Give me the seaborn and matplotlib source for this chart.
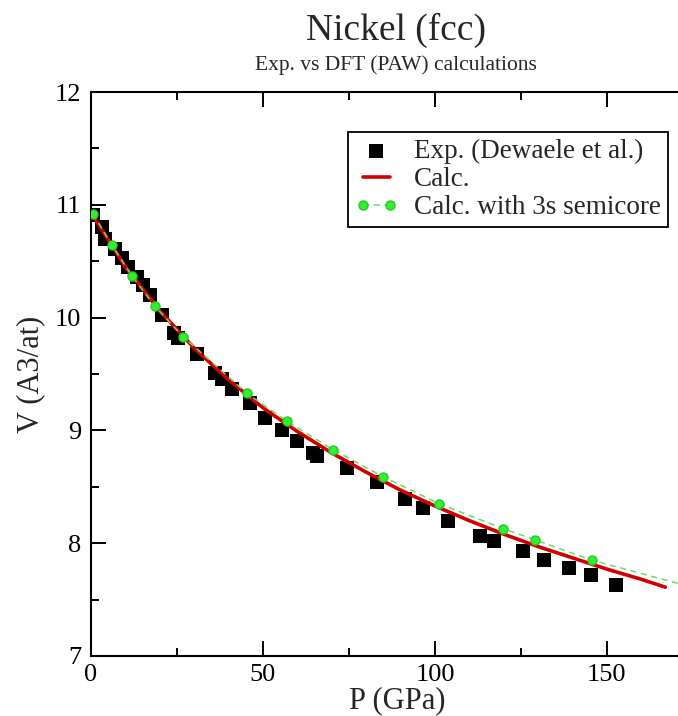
import matplotlib
matplotlib.use("Agg")
import matplotlib.pyplot as plt
import seaborn as sns
from matplotlib.legend_handler import HandlerLine2D
from matplotlib.ticker import MultipleLocator

# experimental points (Dewaele et al.)
exp_p = [0.6, 3.2, 4.1, 7.0, 9.0, 10.8, 13.4, 15.1, 17.2, 20.6, 24.0, 25.3,
         30.8, 36.0, 38.1, 41.0, 46.2, 50.6, 55.5, 59.9, 64.5, 65.8, 74.4,
         83.1, 91.3, 96.5, 103.8, 113.1, 117.2, 125.6, 131.7, 139.0, 145.3, 152.6]
exp_v = [10.91, 10.80, 10.70, 10.61, 10.53, 10.45, 10.36, 10.29, 10.20, 10.02, 9.86, 9.82,
         9.68, 9.51, 9.46, 9.37, 9.24, 9.11, 9.00, 8.91, 8.80, 8.77, 8.67,
         8.54, 8.39, 8.31, 8.20, 8.06, 8.02, 7.93, 7.85, 7.78, 7.72, 7.63]

# PAW calculation
calc_p = [0, 10, 20, 30, 40, 50, 60, 70, 80, 90, 100, 110, 120, 130, 140, 150, 160, 167]
calc_v = [10.93, 10.45, 10.06, 9.73, 9.45, 9.20, 8.99, 8.80, 8.63, 8.47, 8.33, 8.20,
          8.08, 7.97, 7.87, 7.77, 7.68, 7.61]

# PAW calculation with 3s semicore
semi_p = [0.6, 6.1, 11.9, 18.6, 26.8, 45.3, 57.0, 70.3, 84.9, 101.2, 119.8, 129.1, 145.6, 182.0]
semi_v = [10.92, 10.64, 10.37, 10.10, 9.83, 9.33, 9.08, 8.83, 8.59, 8.35, 8.13, 8.03, 7.85, 7.55]

sns.set_style("ticks")
plt.rcParams['font.family'] = ['Liberation Serif', 'DejaVu Serif']

fig = plt.figure(figsize=(6.78, 7.16), dpi=100)
ax = fig.add_axes([0.1342, 0.0838, 0.903, 0.7877])

sns.scatterplot(x=exp_p, y=exp_v, ax=ax, marker='s', s=110, color='black',
                edgecolor='black', linewidth=0, label='Exp. (Dewaele et al.)', zorder=2)
sns.lineplot(x=calc_p, y=calc_v, ax=ax, sort=False, color='#d40000', linewidth=2.6,
             label='Calc.', zorder=3)
sns.lineplot(x=semi_p, y=semi_v, ax=ax, sort=False, color='#66dd66', linewidth=1.1,
             linestyle=(0, (4, 3)), marker='o', markersize=6.5, markerfacecolor='#33ee33',
             markeredgecolor='#22cc22', markeredgewidth=1, label='Calc. with 3s semicore',
             zorder=4)

ax.set_xlim(0, 178)
ax.set_ylim(7, 12)
ax.xaxis.set_major_locator(MultipleLocator(50))
ax.xaxis.set_minor_locator(MultipleLocator(25))
ax.yaxis.set_major_locator(MultipleLocator(1))
ax.yaxis.set_minor_locator(MultipleLocator(0.5))
ax.tick_params(which='both', direction='in', top=True, right=True, width=1.4,
               labelsize=19, colors='black')
ax.tick_params(which='major', length=11)
ax.tick_params(which='minor', length=6)
ax.tick_params(axis='x', which='major', pad=6)
ax.tick_params(axis='y', which='major', pad=7)
for sp in ax.spines.values():
    sp.set_linewidth(1.5)
    sp.set_color('black')

ax.set_xlabel('P (GPa)', fontsize=22, labelpad=0)
ax.set_ylabel('V (A3/at)', fontsize=22, labelpad=7)

fig.text(396 / 678, 1 - 40 / 716, 'Nickel (fcc)', fontsize=27, ha='center', va='baseline')
fig.text(396 / 678, 1 - 70 / 716, 'Exp. vs DFT (PAW) calculations', fontsize=15.5,
         ha='center', va='baseline')

handles, labels = ax.get_legend_handles_labels()
leg = ax.legend(handles, labels, loc='upper right',
                bbox_to_anchor=(668 / 678, 1 - 132 / 716), bbox_transform=fig.transFigure,
                fontsize=19.5, frameon=True, fancybox=False, framealpha=1,
                edgecolor='black', borderpad=0.25, labelspacing=0.12,
                handlelength=1.6, handletextpad=0.6, borderaxespad=0,
                numpoints=2, scatterpoints=1,
                handler_map={handles[2]: HandlerLine2D(numpoints=2)})
leg.get_frame().set_linewidth(1.3)

fig.savefig('out.png', dpi=100)
